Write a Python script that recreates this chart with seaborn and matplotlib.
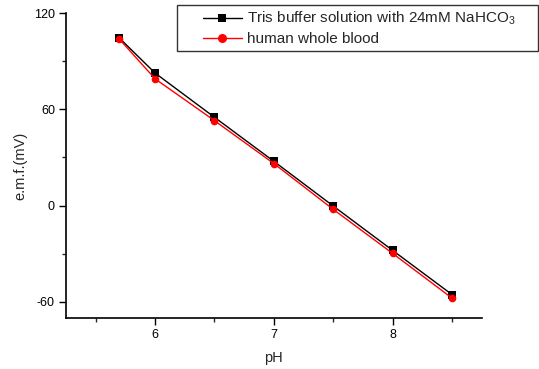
import numpy as np
import pandas as pd
import seaborn as sns
import matplotlib.pyplot as plt
from matplotlib.ticker import MultipleLocator
from matplotlib.patches import Rectangle

# DATA

ph = [5.7, 6.0, 6.5, 7.0, 7.5, 8.0, 8.5]
tris_emf = [104.5, 82.7, 55.1, 27.6, -0.3, -28.0, -55.6]
blood_emf = [103.8, 79.1, 53.0, 26.2, -2.4, -29.9, -57.8]
series_names = ['Tris buffer solution with 24mM NaHCO$_3$', 'human whole blood']

df = pd.DataFrame({
    'pH': ph + ph,
    'emf': tris_emf + blood_emf,
    'sample': [series_names[0]] * len(ph) + [series_names[1]] * len(ph),
})

sns.set_style('ticks')
plt.rcParams['font.family'] = ['Liberation Sans', 'DejaVu Sans']
plt.rcParams['mathtext.fontset'] = 'custom'
plt.rcParams['mathtext.rm'] = 'Liberation Sans'
plt.rcParams['mathtext.it'] = 'Liberation Sans:italic'
plt.rcParams['axes.unicode_minus'] = False

W, H = 539, 369
fig = plt.figure(figsize=(W / 100, H / 100), dpi=100)
ax = fig.add_axes([66 / W, 1 - 318.3 / H, (481.7 - 66) / W, (318.3 - 13.3) / H])

sns.lineplot(data=df, x='pH', y='emf', hue='sample', style='sample',
             palette=['black', 'red'], markers=['s', 'o'], dashes=False,
             markersize=5.5, markeredgewidth=0, linewidth=1, ax=ax, legend=False)

ax.set_xlim(5.25, 8.75)
ax.set_ylim(-70.4, 120)
ax.xaxis.set_major_locator(MultipleLocator(1))
ax.xaxis.set_minor_locator(MultipleLocator(0.5))
ax.yaxis.set_major_locator(MultipleLocator(60))
ax.yaxis.set_minor_locator(MultipleLocator(30))
ax.tick_params(which='major', direction='out', length=5, width=1, labelsize=9, colors='black', pad=3)
ax.tick_params(which='minor', direction='out', length=3, width=1)
sns.despine(ax=ax)
for s in ['left', 'bottom']:
    ax.spines[s].set_color('black')
    ax.spines[s].set_linewidth(1.2)

ax.set_xlabel('pH', fontsize=10.5, labelpad=7)
ax.set_ylabel('e.m.f.(mV)', fontsize=10.5, labelpad=5)

handles = [
    plt.Line2D([], [], color='black', marker='s', markersize=5.5, markeredgewidth=0, linewidth=1),
    plt.Line2D([], [], color='red', marker='o', markersize=6.5, markeredgewidth=0, linewidth=1),
]
leg = fig.legend(handles, series_names, loc='upper left', bbox_to_anchor=(203 / W, 1 - 10 / H),
                 fontsize=11, frameon=False, borderaxespad=0, borderpad=0,
                 handlelength=2.55, handletextpad=0.32, labelspacing=0.3)
# legend box, drawn as in the reference (wide left margin)
fig.patches.append(Rectangle((177 / W, 1 - 51 / H), (538 - 177) / W, 46 / H,
                             transform=fig.transFigure, fill=False,
                             edgecolor='#333333', linewidth=1))

plt.savefig('out.png', dpi=100)
